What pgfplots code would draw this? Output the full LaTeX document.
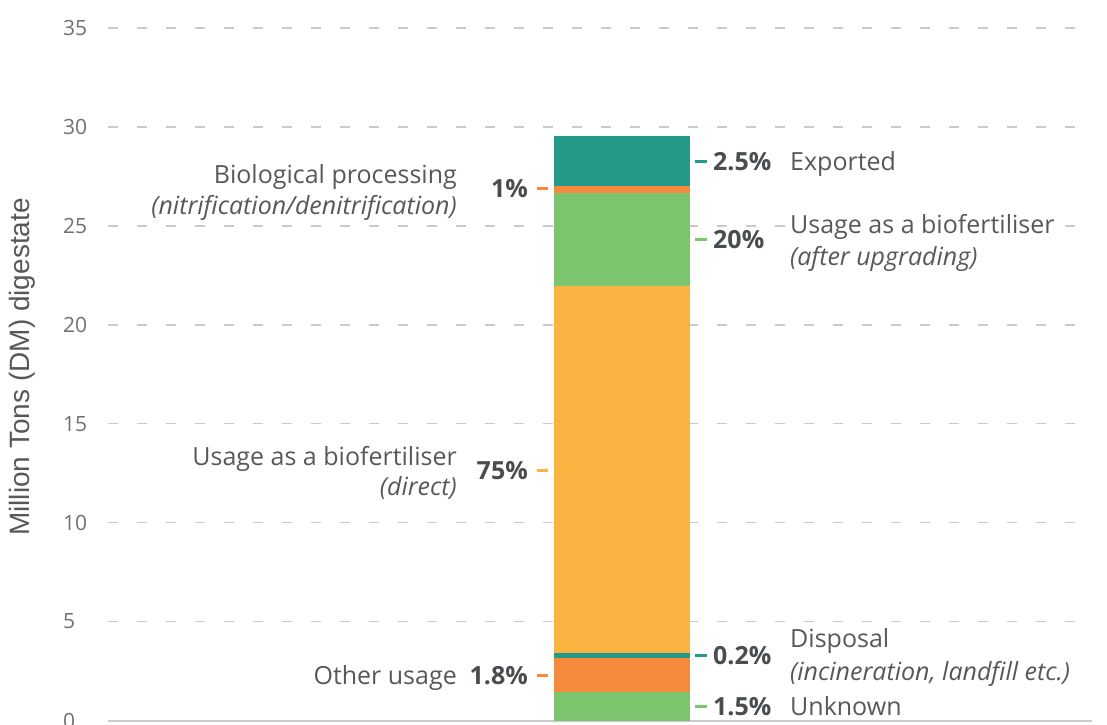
\documentclass[border=0pt]{standalone}
\usepackage{pgfplots}
\pgfplotsset{compat=1.18}
\usepackage{fontspec}
\setmainfont{Open Sans}
\newfontfamily\arialf{Liberation Sans}
\definecolor{cteal}{HTML}{239B88}
\definecolor{corange}{HTML}{F48A3C}
\definecolor{cgreen}{HTML}{7DC46E}
\definecolor{cyellow}{HTML}{F9B341}
\definecolor{ctext}{HTML}{55595C}
\definecolor{cpct}{HTML}{4A4D50}
\definecolor{cgrid}{HTML}{C9C9CE}
\definecolor{ctick}{HTML}{6E7174}
\newcommand{\lf}{\fontsize{25}{29}\selectfont}
\begin{document}
\begin{tikzpicture}[x=1pt,y=1pt]
\path[use as bounding box] (-108,-3.5) rectangle (999,720.5);
\begin{axis}[
  at={(0,0)}, anchor=origin,
  scale only axis, width=984pt, height=692.5pt,
  xmin=0, xmax=984, ymin=0, ymax=35,
  ytick={0,5,...,35}, xtick=\empty,
  axis x line=bottom, axis y line=left,
  axis line style={-},
  y axis line style={draw=none},
  x axis line style={cgrid, line width=2pt},
  major tick length=0pt,
  ymajorgrids,
  grid style={cgrid, line width=1.5pt, dash pattern=on 10pt off 19pt},
  /pgf/number format/assume math mode=true,
  yticklabel style={anchor=west, xshift=-45pt, inner sep=0pt, text=ctick, font=\fontsize{21}{21}\selectfont},
  ybar stacked, bar width=136pt,
  clip=false,
]
\addplot[fill=cgreen, draw=none] coordinates {(514,1.46)};
\addplot[fill=corange, draw=none] coordinates {(514,1.70)};
\addplot[fill=cteal, draw=none] coordinates {(514,0.27)};
\addplot[fill=cyellow, draw=none] coordinates {(514,18.51)};
\addplot[fill=cgreen, draw=none] coordinates {(514,4.74)};
\addplot[fill=corange, draw=none] coordinates {(514,0.31)};
\addplot[fill=cteal, draw=none] coordinates {(514,2.54)};
\end{axis}
% y label
\node[rotate=90, text=ctext, font=\arialf\fontsize{28}{32}\selectfont] at (-86,353.5) {Million Tons (DM) digestate};
\tikzset{
  conn/.style={line width=3pt},
  pct/.style={font=\lf\bfseries, text=cpct, inner sep=2pt, text height=18pt, text depth=0pt, fill=white},
  lab/.style={font=\lf, text=ctext, inner sep=2pt, text height=18pt, text depth=0pt, fill=white},
  labi/.style={font=\lf\itshape, text=ctext, inner sep=2pt, text height=18pt, text depth=0pt, fill=white},
}
% right side
\draw[conn, cteal] (587,558.5) -- (599,558.5);
\node[pct, anchor=west] at (603,558.5) {2.5\%};
\node[lab, anchor=west] at (680,558.5) {Exported};
\draw[conn, cgreen] (587,480.5) -- (599,480.5);
\node[pct, anchor=west] at (603,480.5) {20\%};
\node[lab, anchor=west] at (680,495.5) {Usage as a biofertiliser};
\node[labi, anchor=west] at (680,464.5) {(after upgrading)};
\draw[conn, cteal] (587,65.5) -- (599,65.5);
\node[pct, anchor=west] at (603,65.5) {0.2\%};
\node[lab, anchor=west] at (680,82.5) {Disposal};
\node[labi, anchor=west] at (680,49.5) {(incineration, landfill etc.)};
\draw[conn, cgreen] (587,14.5) -- (599,14.5);
\node[pct, anchor=west] at (603,14.5) {1.5\%};
\node[lab, anchor=west] at (680,14.5) {Unknown};
% left side
\draw[conn, corange] (429,531.5) -- (440,531.5);
\node[pct, anchor=east] at (422,531.5) {1\%};
\node[lab, anchor=east] at (351,545.5) {Biological processing};
\node[labi, anchor=east] at (351,514.5) {(nitrification/denitrification)};
\draw[conn, cyellow] (429,250.5) -- (440,250.5);
\node[pct, anchor=east] at (422,250.5) {75\%};
\node[lab, anchor=east] at (351,264.5) {Usage as a biofertiliser};
\node[labi, anchor=east] at (351,234.5) {(direct)};
\draw[conn, corange] (429,45.5) -- (440,45.5);
\node[pct, anchor=east] at (422,45.5) {1.8\%};
\node[lab, anchor=east] at (351,45.5) {Other usage};
\end{tikzpicture}
\end{document}
